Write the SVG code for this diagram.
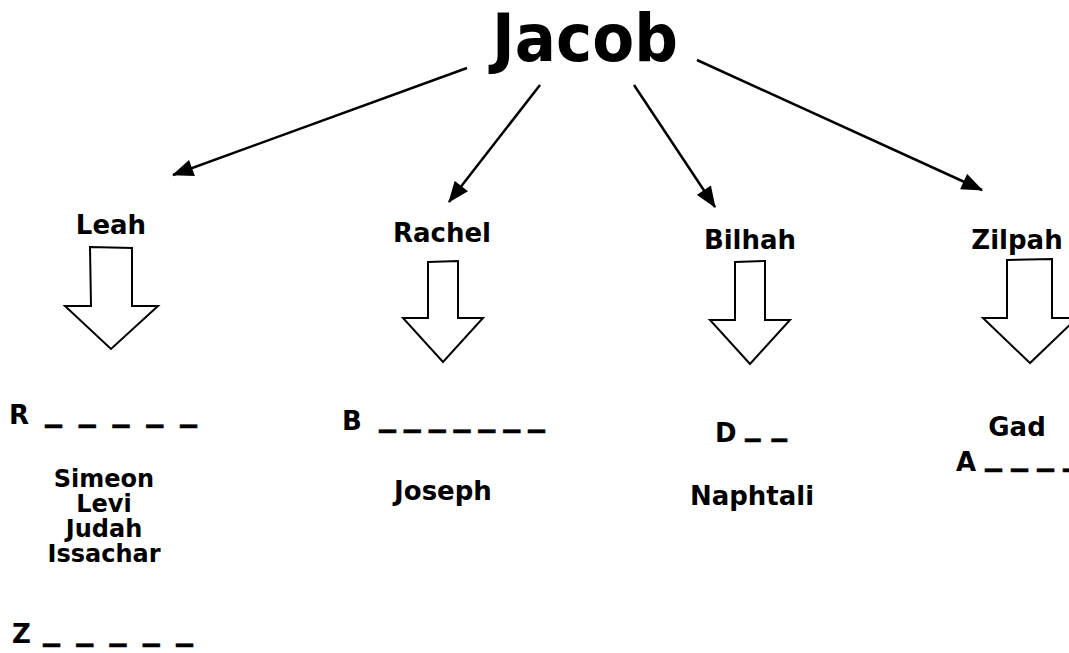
<svg xmlns="http://www.w3.org/2000/svg" width="1069" height="653" viewBox="0 0 1069 653">
<style>
text{font-family:"DejaVu Sans","Liberation Sans",sans-serif;font-weight:bold;fill:#000}
.t{font-size:66px}
.n{font-size:26px;text-anchor:middle}
.s{font-size:24px;text-anchor:middle}
.l{font-size:26px}
.u{font-size:34px;stroke:#000;stroke-width:0.6}
.c{stroke:#000;stroke-width:2.5;fill:none}
.b{fill:#fff;stroke:#000;stroke-width:2;stroke-linejoin:miter}
</style>
<defs>
<marker id="ahd" viewBox="0 0 20 16" refX="19" refY="8" markerWidth="22" markerHeight="17" orient="auto" markerUnits="userSpaceOnUse">
<path d="M0,0 L20,8 L0,16 Z" fill="#000"/>
</marker>
</defs>
<rect width="1069" height="653" fill="#fff"/>
<g id="jacob"><text class="t" x="492" y="61" textLength="186" lengthAdjust="spacingAndGlyphs">Jacob</text></g>
<g id="connectors">
<line class="c" x1="467" y1="68" x2="173" y2="175" marker-end="url(#ahd)"/>
<line class="c" x1="540" y1="85" x2="449" y2="202" marker-end="url(#ahd)"/>
<line class="c" x1="634" y1="85" x2="715" y2="207" marker-end="url(#ahd)"/>
<line class="c" x1="697" y1="60" x2="982" y2="190" marker-end="url(#ahd)"/>
</g>
<g id="leah">
<text class="n" x="111" y="234">Leah</text>
<path class="b" d="M90,247 L132,248 L132,306 L158,306 L111,349 L65,306 L91,306 Z"/>
<text class="l" x="9" y="424">R</text>
<text class="u" x="45" y="420" textLength="152" lengthAdjust="spacing">_ _ _ _ _</text>
<text class="s" x="104" y="487">Simeon</text>
<text class="s" x="104" y="512">Levi</text>
<text class="s" x="104" y="537">Judah</text>
<text class="s" x="104" y="562">Issachar</text>
<text class="l" x="12" y="643">Z</text>
<text class="u" x="43" y="639" textLength="150" lengthAdjust="spacing">_ _ _ _ _</text>
</g>
<g id="rachel">
<text class="n" x="442" y="242">Rachel</text>
<path class="b" d="M428,262 L458,261 L458,318 L483,318 L443,362 L403,318 L428,318 Z"/>
<text class="l" x="342" y="430">B</text>
<text class="u" x="379" y="425" textLength="166" lengthAdjust="spacing">_ _ _ _ _ _ _</text>
<text class="n" x="443" y="500">Joseph</text>
</g>
<g id="bilhah">
<text class="n" x="750" y="249">Bilhah</text>
<path class="b" d="M735,262 L765,261 L765,320 L790,320 L750,364 L710,320 L735,320 Z"/>
<text class="l" x="715" y="442">D</text>
<text class="u" x="745" y="434" textLength="42" lengthAdjust="spacingAndGlyphs">_ _</text>
<text class="n" x="752" y="505">Naphtali</text>
</g>
<g id="zilpah">
<text class="n" x="1017" y="249">Zilpah</text>
<path class="b" d="M1007,260 L1052,259 L1052,318 L1077,318 L1030,363 L983,318 L1007,318 Z"/>
<text class="n" x="1017" y="436">Gad</text>
<text class="l" x="956" y="471">A</text>
<text class="u" x="985" y="464" textLength="95" lengthAdjust="spacing">_ _ _ _</text>
</g>
</svg>
